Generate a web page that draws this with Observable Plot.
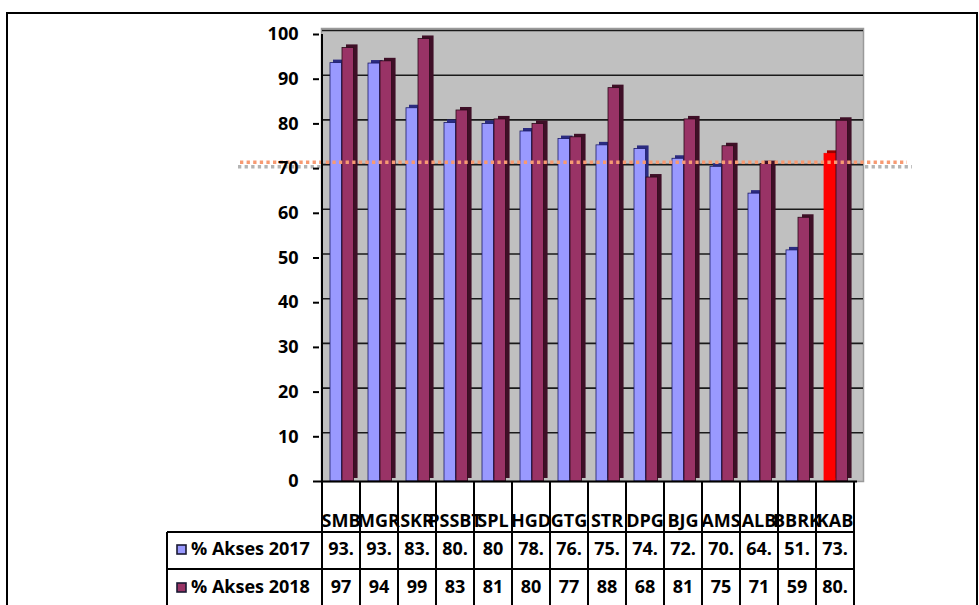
<!DOCTYPE html>
<html>
<head>
<meta charset="utf-8">
<script src="https://cdn.jsdelivr.net/npm/d3@7"></script>
<script src="https://cdn.jsdelivr.net/npm/@observablehq/plot@0.6"></script>
<style>
  html, body { margin: 0; padding: 0; background: #fff; }
  #chart { position: relative; width: 979px; height: 605px; overflow: hidden; }
</style>
</head>
<body>
<div id="chart"></div>
<script>
// ---- data ----
const categories = ["SMB","MGR","SKR","PSSBT","SPL","HGD","GTG","STR","DPG","BJG","AMS","ALB","BBRK","KAB"];
const akses2017 = [93.6,93.5,83.5,80.2,80,78.3,76.6,75.2,74.4,72.2,70.4,64.4,51.7,73.3];
const akses2018 = [97,94,99,83,81,80,77,88,68,81,75,71,59,80.7];
const seriesNames = ["% Akses 2017","% Akses 2018"];
const yTicks = [0,10,20,30,40,50,60,70,80,90,100];
const targetValue = 71.4;
const targetShadowValue = 70.4;
const highlightCategory = "KAB";

// ---- styles ----
const FONT = "'Open Sans', 'Noto Sans', sans-serif";
const c17 = "#9999ff", c17side = "#2b2b80", c17stroke = "#1a1a66";
const c18 = "#993366", c18side = "#3f0f27", c18stroke = "#2a0a18";
const cHi = "#ff0000", cHiSide = "#990000";

const rows = categories.map((c, i) => ({cat: c, v17: akses2017[i], v18: akses2018[i]}));
const fmt = v => Number.isInteger(v) ? String(v) : Math.trunc(v) + ".";

const W = 979, H = 605;
const mL = 319, mR = 122, mT = 34, mB = 124;
const bw = (W - mL - mR) / categories.length;

const plot = Plot.plot({
  width: W, height: H,
  marginLeft: mL, marginRight: mR, marginTop: mT, marginBottom: mB,
  style: {fontFamily: FONT, fontSize: "18px", fontWeight: "bold", color: "#000", background: "transparent", overflow: "visible"},
  x: {domain: categories, type: "band", paddingInner: 0, paddingOuter: 0, axis: null},
  y: {domain: [0, 100], axis: null},
  marks: [
    // gray shadow of target line
    Plot.ruleY([targetShadowValue], {stroke: "#b4b4b4", strokeWidth: 3.5, strokeDasharray: "3.3,3.3", insetLeft: -81, insetRight: -55}),
    // back wall
    Plot.frame({fill: "#c0c0c0", stroke: "#9a9a9a", strokeWidth: 1.5, insetTop: -6, insetRight: -6, insetLeft: 2}),
    // gridlines on wall
    Plot.ruleY(yTicks.filter(d => d > 0), {stroke: "#1a1a1a", strokeWidth: 1.6, dy: -4, insetLeft: 3, insetRight: -6}),
    // 2017 bars (depth + front)
    Plot.barY(rows, {x: "cat", y: "v17", fill: d => d.cat === highlightCategory ? cHiSide : c17side, insetLeft: 8, insetRight: bw - 20, dx: 3, dy: -3}),
    Plot.barY(rows, {x: "cat", y: "v17", fill: d => d.cat === highlightCategory ? cHi : c17, stroke: d => d.cat === highlightCategory ? cHi : c17stroke, strokeWidth: 0.8, insetLeft: 8, insetRight: bw - 20}),
    // 2018 bars (depth + front)
    Plot.barY(rows, {x: "cat", y: "v18", fill: c18side, insetLeft: 20, insetRight: bw - 32, dx: 4, dy: -3}),
    Plot.barY(rows, {x: "cat", y: "v18", fill: c18, stroke: c18stroke, strokeWidth: 0.8, insetLeft: 20, insetRight: bw - 32}),
    // floor line
    Plot.ruleY([0], {stroke: "#000", strokeWidth: 2}),
    // target line
    Plot.ruleY([targetValue], {stroke: "#f79a72", strokeWidth: 3.5, strokeDasharray: "3.3,3.3", insetLeft: -79, insetRight: -50}),
    // y axis
    Plot.axisY({ticks: yTicks, tickSize: 6, tickPadding: 15, stroke: "#000", strokeWidth: 2, fontSize: 18, fontWeight: "bold", fill: "#000"})
  ]
});

document.getElementById("chart").appendChild(plot);

// ---- data table + frame, positioned with Plot's scales ----
const sx = plot.scale("x");
const sy = plot.scale("y");
const svg = d3.select(plot);
const g = svg.append("g").attr("text-anchor", "start");
const xStart = c => sx.apply(c);
const xEnd = sx.apply(categories[categories.length - 1]) + sx.bandwidth;
const y0 = sy.apply(0);

// axis line
g.append("line").attr("x1", xStart(categories[0])).attr("x2", xStart(categories[0]))
  .attr("y1", sy.apply(100)).attr("y2", y0).attr("stroke", "#000").attr("stroke-width", 2);

const rowTop1 = 532, rowTop2 = 569, tableBottom = 610, legendLeft = 167;
// vertical column borders
categories.forEach(c => {
  g.append("line").attr("x1", xStart(c)).attr("x2", xStart(c)).attr("y1", y0).attr("y2", tableBottom)
    .attr("stroke", "#000").attr("stroke-width", 2);
});
g.append("line").attr("x1", xEnd).attr("x2", xEnd).attr("y1", y0).attr("y2", tableBottom).attr("stroke", "#000").attr("stroke-width", 2);
g.append("line").attr("x1", legendLeft).attr("x2", legendLeft).attr("y1", rowTop1).attr("y2", tableBottom).attr("stroke", "#000").attr("stroke-width", 2);
[rowTop1, rowTop2].forEach(y => {
  g.append("line").attr("x1", legendLeft).attr("x2", xEnd).attr("y1", y).attr("y2", y).attr("stroke", "#000").attr("stroke-width", 2);
});

const textStyle = sel => sel.attr("font-family", FONT).attr("font-size", 18).attr("font-weight", "bold").attr("fill", "#000");
// header labels
categories.forEach(c => {
  g.append("text").attr("x", xStart(c) + sx.bandwidth / 2).attr("y", 527).attr("text-anchor", "middle").text(c).call(textStyle);
});
// value rows
[[akses2017, 555], [akses2018, 593]].forEach(([vals, yb]) => {
  vals.forEach((v, i) => {
    g.append("text").attr("x", xStart(categories[i]) + sx.bandwidth / 2).attr("y", yb).attr("text-anchor", "middle").text(fmt(v)).call(textStyle);
  });
});
// legend cells
[[seriesNames[0], c17, 555], [seriesNames[1], c18, 593]].forEach(([name, fill, yb]) => {
  g.append("rect").attr("x", 177).attr("y", yb - 10).attr("width", 9).attr("height", 9).attr("fill", fill).attr("stroke", "#1a1a33").attr("stroke-width", 1.6);
  g.append("text").attr("x", 191).attr("y", yb).attr("text-anchor", "start").text(name).call(textStyle);
});

// outer chart border
g.append("path").attr("d", `M7,${H + 5}V13H977V${H + 5}`).attr("fill", "none").attr("stroke", "#000").attr("stroke-width", 2);
</script>
</body>
</html>
